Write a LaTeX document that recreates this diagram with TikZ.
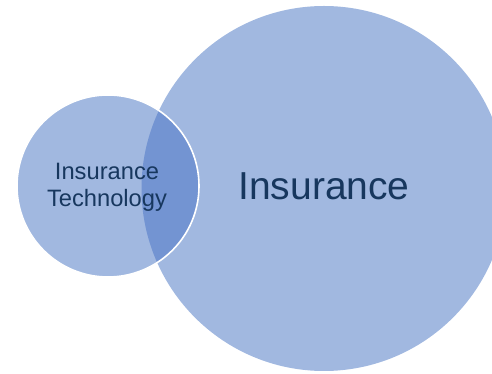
\documentclass[tikz,border=0pt]{standalone}
\usepackage{fontspec}
\setmainfont{Liberation Sans}
\definecolor{lightblue}{HTML}{A1B8E0}
\definecolor{darkblue}{HTML}{7394D2}
\definecolor{navy}{HTML}{17375E}
\tikzset{
  venn/.style={circle, inner sep=0pt, outer sep=0pt, fill=lightblue},
  label text/.style={text=navy, inner sep=0pt, align=center}
}
\begin{document}
\begin{tikzpicture}[x=1pt,y=1pt]
\useasboundingbox (0,0) rectangle (492,374);
\clip (0,0) rectangle (492,374);
\node[venn, minimum size=365pt] (big) at (324,185.5) {};
\node[venn, minimum size=182pt] (small) at (108,188) {};
\begin{scope}
  \clip (108,188) circle (91);
  \fill[darkblue] (324,185.5) circle (182.5);
\end{scope}
\draw[white, line width=1.6pt] (108,188) circle (91);
\node[label text, anchor=north, font=\fontsize{23.7}{27}\selectfont] (tech) at (107,211) {Insurance\\Technology};
\node[label text, anchor=base, font=\fontsize{39}{45}\selectfont] (ins) at (324,174) {Insurance};
\end{tikzpicture}
\end{document}
